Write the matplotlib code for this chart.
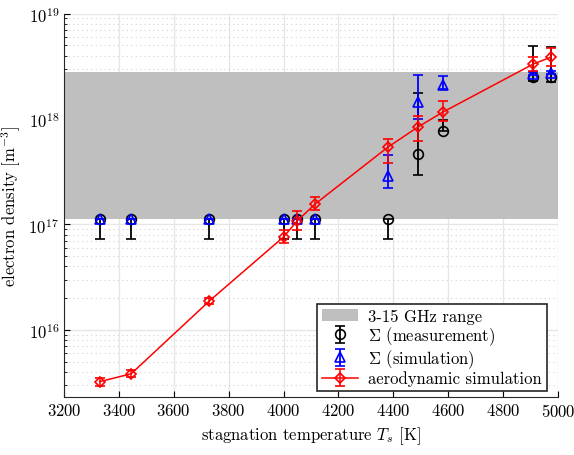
import numpy as np
import matplotlib
matplotlib.use("Agg")
import matplotlib.pyplot as plt

plt.rcParams['font.family'] = 'serif'
plt.rcParams['font.serif'] = ['cmr10']
plt.rcParams['mathtext.fontset'] = 'cm'
plt.rcParams['axes.formatter.use_mathtext'] = True
plt.rcParams['axes.unicode_minus'] = False
plt.rcParams['font.size'] = 12

# stagnation temperatures [K]
T = [3330, 3445, 3730, 4000, 4050, 4115, 4380, 4490, 4580, 4910, 4975]

# aerodynamic simulation
aero = [3.22e15, 3.83e15, 1.88e16, 7.6e16, 1.08e17, 1.56e17, 5.4e17, 8.4e17, 1.16e18, 3.32e18, 3.87e18]
aero_lo = [2.95e15, 3.55e15, 1.75e16, 6.6e16, 8.9e16, 1.38e17, 3.85e17, 6.2e17, 9.6e17, 2.85e18, 3.18e18]
aero_hi = [3.5e15, 4.15e15, 2.02e16, 8.8e16, 1.34e17, 1.82e17, 6.5e17, 1.07e18, 1.48e18, 3.87e18, 4.7e18]

# Sigma (measurement)
meas = [1.116e17] * 7 + [4.66e17, 7.7e17, 2.5e18, 2.5e18]
meas_lo = [7.2e16] * 7 + [2.95e17, 7.7e17, 2.3e18, 2.24e18]
meas_hi = [1.116e17] * 7 + [1.76e18, 9.8e17, 4.9e18, 4.8e18]

# Sigma (simulation)
sim = [1.116e17] * 6 + [2.9e17, 1.45e18, 2.1e18, 2.67e18, 2.75e18]
sim_lo = [1.116e17] * 6 + [2.22e17, 1.0e18, 1.92e18, 2.6e18, 2.65e18]
sim_hi = [1.116e17] * 6 + [4.56e17, 2.61e18, 2.56e18, 2.8e18, 2.85e18]

# 3-15 GHz plasma frequency range
band = [1.116e17, 2.79e18]

fig = plt.figure(figsize=(5.74, 4.56), dpi=100)
ax = fig.add_axes([0.1115, 0.127, 0.8605, 0.841])

ax.set_yscale('log')
ax.set_xlim(3200, 5000)
ax.set_ylim(2.3e15, 1e19)

ax.grid(True, which='major', color='#e6e6e6', lw=1.0, zorder=0)
ax.grid(True, which='minor', axis='y', color='#d2d2d2', lw=0.8, ls=(0, (1, 3)), zorder=0)
ax.set_axisbelow(True)

h_band = ax.fill_between([3200, 5000], band[0], band[1], color='#bfbfbf', lw=0, zorder=1,
                         label='3-15 GHz range')


def err(v, lo, hi):
    v = np.array(v)
    return [v - np.array(lo), np.array(hi) - v]


h_meas = ax.errorbar(T, meas, yerr=err(meas, meas_lo, meas_hi), fmt='o', color='k', mfc='none',
                     ms=7, mew=1.2, lw=1.3, capsize=3.5, zorder=3, label=r'$\Sigma$ (measurement)')
h_sim = ax.errorbar(T, sim, yerr=err(sim, sim_lo, sim_hi), fmt='^', color='#0000ff', mfc='none',
                    ms=7, mew=1.2, lw=1.3, capsize=3.5, zorder=4, label=r'$\Sigma$ (simulation)')
h_aero = ax.errorbar(T, aero, yerr=err(aero, aero_lo, aero_hi), fmt='-D', color='#ff0000', mfc='none',
                     ms=5.5, mew=1.2, lw=1.1, capsize=3.5, zorder=5, label='aerodynamic simulation')

ax.spines['top'].set_visible(False)
ax.spines['right'].set_visible(False)
ax.spines['left'].set_color('#262626')
ax.spines['bottom'].set_color('#262626')
ax.tick_params(which='both', direction='in', top=False, right=False)
ax.tick_params(which='major', length=4)
ax.tick_params(which='minor', length=2)
ax.set_xticks(np.arange(3200, 5001, 200))

ax.set_xlabel(r'stagnation temperature $T_s$ [K]', fontsize=12)
ax.set_ylabel(r'electron density [m$^{-3}$]', fontsize=12)

leg = ax.legend(handles=[h_band, h_meas, h_sim, h_aero], loc='lower right', fancybox=False,
                framealpha=1, edgecolor='#262626', fontsize=12,
                bbox_to_anchor=(0.978, 0.015), borderaxespad=0,
                handlelength=2.2, handletextpad=0.6, labelspacing=0.02, borderpad=0.3)
leg.get_frame().set_linewidth(1.2)

fig.savefig('out.png', dpi=100)
